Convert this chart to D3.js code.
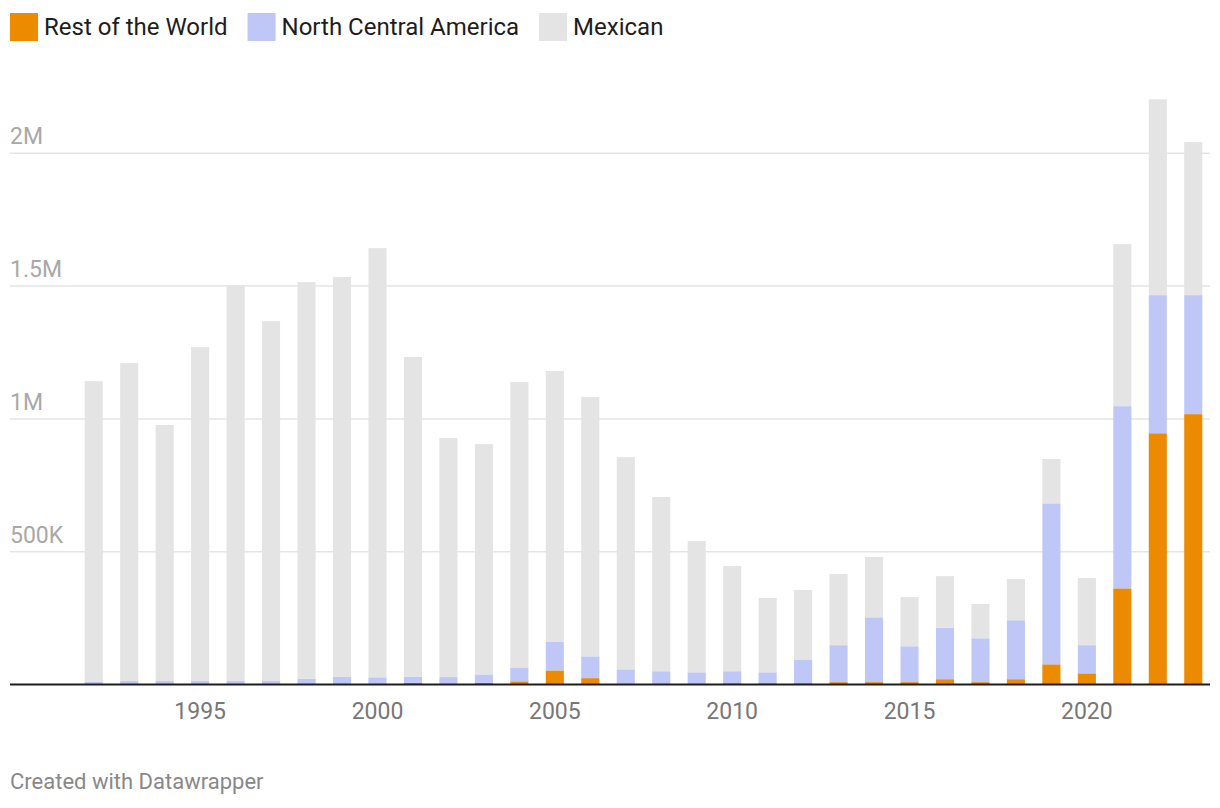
<!DOCTYPE html>
<html>
<head>
<meta charset="utf-8">
<script src="https://cdn.jsdelivr.net/npm/d3@7"></script>
<style>
  body { margin: 0; background: #fff; font-family: Roboto, "Noto Sans", sans-serif; }
</style>
</head>
<body>
<div id="chart"></div>
<script>
var svgWidth = 1220;
var svgHeight = 808;

// values
var years = [1992, 1993, 1994, 1995, 1996, 1997, 1998, 1999, 2000, 2001, 2002, 2003, 2004, 2005, 2006, 2007,
    2008, 2009, 2010, 2011, 2012, 2013, 2014, 2015, 2016, 2017, 2018, 2019, 2020, 2021, 2022, 2023];

var restOfWorld = [0, 0, 0, 0, 0, 0, 0, 0, 0, 6000, 0, 6000, 12000, 53000, 24000, 2000,
    2000, 2000, 5000, 5000, 5000, 9000, 9000, 9000, 20000, 9000, 20000, 76000, 42000, 362000, 946000, 1018000];

var northCentralAmerica = [10000, 13000, 13000, 13000, 13000, 13000, 22000, 30000, 27000, 24000, 28000, 32000, 52000, 109000, 82000, 55000,
    48000, 44000, 45000, 41000, 89000, 139000, 244000, 135000, 194000, 165000, 222000, 606000, 106000, 686000, 520000, 448000];

var mexican = [1132000, 1197000, 964000, 1257000, 1491000, 1355000, 1493000, 1504000, 1616000, 1203000, 900000, 867000, 1075000, 1018000, 976000, 799000,
    656000, 494000, 396000, 280000, 262000, 268000, 227000, 185000, 194000, 129000, 155000, 167000, 253000, 610000, 737000, 576000];

var seriesNames = ['Rest of the World', 'North Central America', 'Mexican'];
var seriesKeys = ['row', 'nca', 'mex'];
var seriesColors = ['#ed8b00', '#bfc7f6', '#e4e4e4'];

var yTicks = [500000, 1000000, 1500000, 2000000];
var yTickLabels = ['500K', '1M', '1.5M', '2M'];
var xTicks = [1995, 2000, 2005, 2010, 2015, 2020];

var data = years.map((y, i) => ({
    year: y,
    row: restOfWorld[i],
    nca: northCentralAmerica[i],
    mex: mexican[i]
}));

var svg = d3.select('#chart').append('svg')
    .attr('width', svgWidth)
    .attr('height', svgHeight)
    .style('font-family', 'Roboto, sans-serif');

var left = 10, right = 1210;

var xScale = d3.scaleBand()
    .domain(years)
    .range([76, 1211])
    .paddingInner(0.49)
    .paddingOuter(0.245);

var yScale = d3.scaleLinear()
    .domain([0, 2000000])
    .range([684.5, 153.3]);

// gridlines
svg.append('g')
    .selectAll('line')
    .data(yTicks)
    .enter()
    .append('line')
    .attr('x1', left)
    .attr('x2', right)
    .attr('y1', d => yScale(d))
    .attr('y2', d => yScale(d))
    .attr('stroke', '#e5e5e5')
    .attr('stroke-width', 1.5);

svg.append('g')
    .selectAll('text')
    .data(yTicks)
    .enter()
    .append('text')
    .attr('x', left)
    .attr('y', d => yScale(d) - 9)
    .attr('fill', '#a8a8a8')
    .attr('font-size', 23)
    .text((d, i) => yTickLabels[i]);

// bars
var stack = d3.stack().keys(seriesKeys);
var layers = stack(data);

svg.append('g')
    .selectAll('g')
    .data(layers)
    .enter()
    .append('g')
    .attr('fill', (d, i) => seriesColors[i])
    .selectAll('rect')
    .data(d => d)
    .enter()
    .append('rect')
    .attr('x', d => xScale(d.data.year))
    .attr('width', xScale.bandwidth())
    .attr('y', d => yScale(d[1]))
    .attr('height', d => yScale(d[0]) - yScale(d[1]));

// baseline
svg.append('line')
    .attr('x1', left)
    .attr('x2', right)
    .attr('y1', yScale(0))
    .attr('y2', yScale(0))
    .attr('stroke', '#1d1d1d')
    .attr('stroke-width', 2);

// x axis labels
var xAxis = d3.axisBottom(xScale)
    .tickValues(xTicks)
    .tickSize(0)
    .tickPadding(0);

var xg = svg.append('g')
    .attr('transform', `translate(0,${yScale(0)})`)
    .call(xAxis);
xg.select('.domain').remove();
xg.selectAll('text')
    .attr('dy', null)
    .attr('y', 34)
    .attr('fill', '#777')
    .attr('font-size', 23)
    .attr('font-family', 'Roboto, sans-serif');

// legend
var legend = svg.append('g');
var lx = 10;
seriesNames.forEach((name, i) => {
    legend.append('rect')
        .attr('x', lx)
        .attr('y', 13)
        .attr('width', 28)
        .attr('height', 28)
        .attr('fill', seriesColors[i]);
    var t = legend.append('text')
        .attr('x', lx + 34)
        .attr('y', 35)
        .attr('fill', '#1d1d1d')
        .attr('font-size', 24)
        .text(name);
    lx += 34 + t.node().getComputedTextLength() + 20;
});

// footer
svg.append('text')
    .attr('x', 10)
    .attr('y', 789)
    .attr('fill', '#888')
    .attr('font-size', 22)
    .text('Created with Datawrapper');
</script>
</body>
</html>
